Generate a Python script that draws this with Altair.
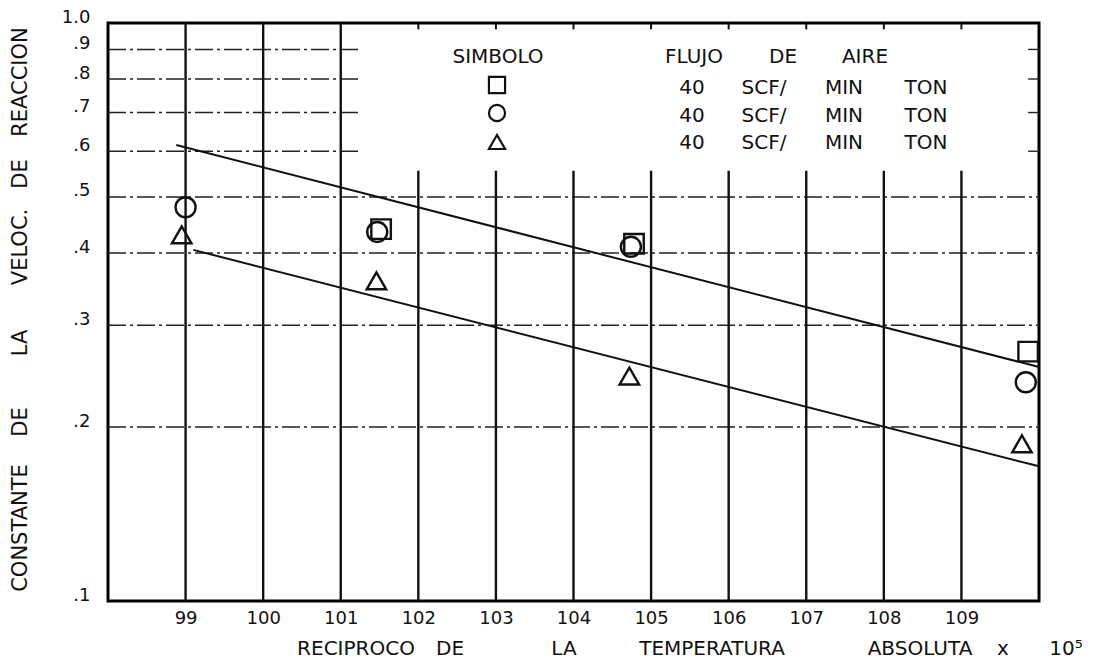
import re

import altair as alt
import pandas as pd

# ---------------- values ----------------
x_ticks = [99, 100, 101, 102, 103, 104, 105, 106, 107, 108, 109]
y_ticks = [0.1, 0.2, 0.3, 0.4, 0.5, 0.6, 0.7, 0.8, 0.9, 1.0]
y_tick_labels = [".1", ".2", ".3", ".4", ".5", ".6", ".7", ".8", ".9", "1.0"]

# measured rate constants (reciprocal temperature x 10^5, k)
square_x = [101.52, 104.78, 109.86]
square_k = [0.44, 0.415, 0.270]
circle_x = [99.0, 101.47, 104.74, 109.83]
circle_k = [0.48, 0.435, 0.41, 0.239]
triangle_x = [98.95, 101.46, 104.72, 109.78]
triangle_k = [0.43, 0.358, 0.245, 0.187]

# fitted straight lines (end points)
upper_fit_x = [98.88, 110.0]
upper_fit_k = [0.615, 0.254]
lower_fit_x = [99.1, 110.0]
lower_fit_k = [0.405, 0.171]

# grid
grid_x_full = [99, 100, 101]
grid_x_lower = [102, 103, 104, 105, 106, 107, 108, 109]
grid_y_full = [0.2, 0.3, 0.4, 0.5]
grid_y_short = [0.6, 0.7, 0.8, 0.9]

# texts
legend_header = ["SIMBOLO", "FLUJO DE AIRE"]
legend_flow = ["40 SCF/MIN TON", "40 SCF/MIN TON", "40 SCF/MIN TON"]
y_title = "CONSTANTE DE LA VELOC. DE REACCION"
x_title = "RECIPROCO DE LA TEMPERATURA ABSOLUTA x 10⁵"

# ---------------- style / layout ----------------
FONT = "DejaVu Sans"
INK = "#111111"
W, H = 931, 578
OX, OY = 108, 23  # plot-area origin on the page

XS = alt.Scale(domain=[98, 110], nice=False, zero=False)
YS = alt.Scale(type="log", domain=[0.1, 1.0], nice=False)

label_expr = " : ".join(
    f"abs(datum.value - {v}) < 1e-6 ? '{t}'" for v, t in zip(y_ticks, y_tick_labels)
) + " : ''"

X_AX = alt.Axis(values=x_ticks, format="d", title=None, domain=False, ticks=False,
                grid=False, labelFont=FONT, labelFontSize=18, labelColor=INK,
                labelPadding=8, labelOverlap=False, labelFlush=False)
Y_AX = alt.Axis(values=y_ticks, labelExpr=label_expr, title=None, domain=False,
                ticks=False, grid=False, labelFont=FONT, labelFontSize=18,
                labelColor=INK, labelPadding=18, labelOffset=-6,
                labelOverlap=False, labelFlush=False)


def X(field="x"):
    return alt.X(f"{field}:Q", scale=XS, axis=X_AX)


def Y(field="k"):
    return alt.Y(f"{field}:Q", scale=YS, axis=Y_AX)


# vertical grid: three full-height lines, the rest stop under the legend box
vgrid_df = pd.DataFrame({
    "x": grid_x_full + grid_x_lower,
    "k": [0.1] * (len(grid_x_full) + len(grid_x_lower)),
    "k2": [1.0] * len(grid_x_full) + [0.555] * len(grid_x_lower),
})
vgrid = alt.Chart(vgrid_df).mark_rule(color=INK, strokeWidth=2.4).encode(
    x=X(), y=Y(), y2="k2:Q")

top_ticks_df = pd.DataFrame({"x": grid_x_lower, "k": [1.0] * len(grid_x_lower),
                             "k2": [0.975] * len(grid_x_lower)})
top_ticks = alt.Chart(top_ticks_df).mark_rule(color=INK, strokeWidth=2).encode(
    x=X(), y=Y(), y2="k2:Q")

# horizontal dash-dot grid
hgrid_df = pd.DataFrame({
    "k": grid_y_full + grid_y_short + grid_y_short,
    "x": [98.0] * len(grid_y_full) + [98.0] * len(grid_y_short) + [109.86] * len(grid_y_short),
    "x2": [110.0] * len(grid_y_full) + [101.25] * len(grid_y_short) + [110.0] * len(grid_y_short),
})
hgrid = alt.Chart(hgrid_df).mark_rule(color="#222222", strokeWidth=1.4,
                                      strokeDash=[18, 4, 3, 4]).encode(
    x=X(), x2="x2:Q", y=Y())

# fitted lines
fit_df = pd.DataFrame({
    "x": upper_fit_x + lower_fit_x,
    "k": upper_fit_k + lower_fit_k,
    "fit": ["upper"] * len(upper_fit_x) + ["lower"] * len(lower_fit_x),
})
fits = alt.Chart(fit_df).mark_line(color=INK, strokeWidth=2).encode(
    x=X(), y=Y(), detail="fit:N")


def points(xs, ks, shape, size):
    df = pd.DataFrame({"x": xs, "k": ks})
    return alt.Chart(df).mark_point(shape=shape, filled=False, size=size,
                                    color=INK, strokeWidth=2.4, opacity=1).encode(
        x=X(), y=Y())


squares = points(square_x, square_k, "square", 380)
circles = points(circle_x, circle_k, "circle", 400)
triangles = points(triangle_x, triangle_k, "triangle-up", 380)


def word(text, cx, cy, size, angle=0):
    df = pd.DataFrame({"t": [text]})
    return alt.Chart(df).mark_text(font=FONT, fontSize=size, angle=angle,
                                   align="center", baseline="middle",
                                   color=INK).encode(
        x=alt.value(cx - OX), y=alt.value(cy - OY), text="t:N")


def symbol(shape, cx, cy, size):
    df = pd.DataFrame({"t": [shape]})
    return alt.Chart(df).mark_point(shape=shape, filled=False, size=size, color=INK,
                                    strokeWidth=2.2, opacity=1).encode(
        x=alt.value(cx - OX), y=alt.value(cy - OY))


texts = []

# legend header
header_words = legend_header[0].split() + legend_header[1].split()
for w, cx in zip(header_words, [498, 694, 783, 865]):
    texts.append(word(w, cx, 57, 20))

# legend rows
row_y = [88, 116, 143]
sym_y = [85, 113, 142]
for shape, sy in zip(["square", "circle", "triangle-up"], sym_y):
    texts.append(symbol(shape, 497, sy, 260))
for line, ry in zip(legend_flow, row_y):
    tokens = [t for t in re.split(r"\s+|(?<=/)", line) if t]
    for w, cx in zip(tokens, [692, 764, 844, 926]):
        texts.append(word(w, cx, ry, 20))

# y title (rotated, read bottom to top)
for w, cy in zip(y_title.split(), [528, 422, 343, 247, 174, 82]):
    texts.append(word(w, 21, cy, 21, angle=270))

# x title
for w, cx in zip(x_title.split(), [356, 450, 564, 712, 920, 1003, 1066]):
    texts.append(word(w, cx, 649, 20))

chart = alt.layer(hgrid, vgrid, top_ticks, fits, squares, circles, triangles, *texts).properties(
    width=W, height=H,
    autosize="none",
    padding={"left": OX, "top": OY, "right": 1105 - OX - W, "bottom": 663 - OY - H},
    background="white",
).configure_view(stroke="black", strokeWidth=3)

chart.save("out.html", embed_options={"renderer": "svg", "actions": False})
